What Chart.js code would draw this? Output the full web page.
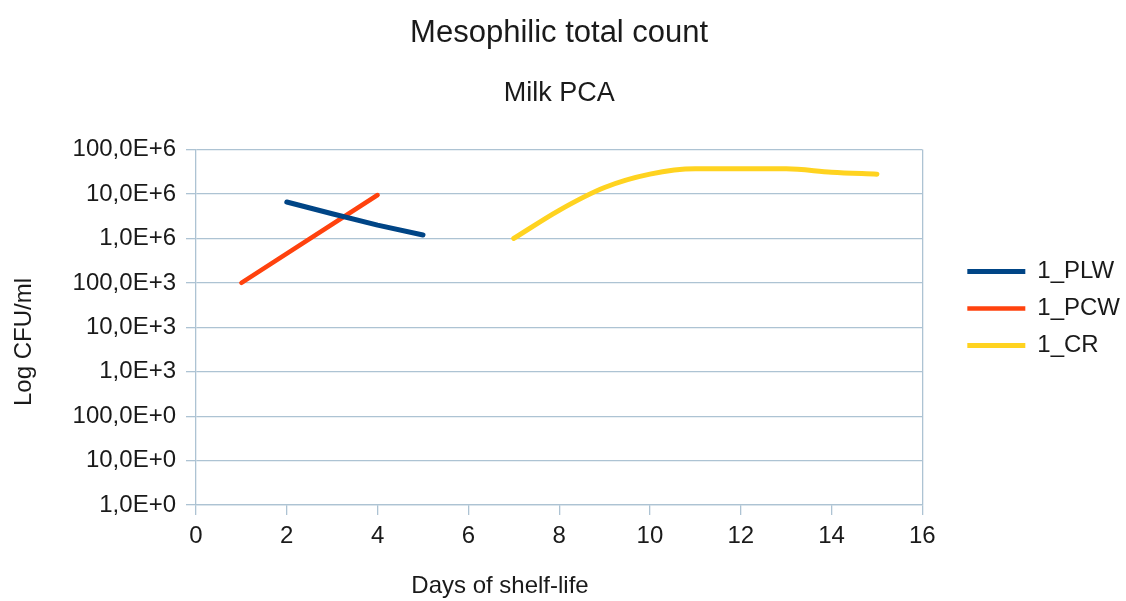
<!DOCTYPE html>
<html>
<head>
<meta charset="utf-8">
<title>Mesophilic total count</title>
<script src="https://cdn.jsdelivr.net/npm/chart.js@4.4.1/dist/chart.umd.min.js"></script>
<style>
    html, body { margin: 0; padding: 0; background: #ffffff; }
    #wrap { width: 1126px; height: 601px; position: relative; }
</style>
</head>
<body>
<div id="wrap"><canvas id="mesophilicChart"></canvas></div>
<script>
// Samples: day of shelf-life and CFU/ml for each batch
const plwDays = [2, 3, 4, 5];
const plwCounts = [6.6e6, 3.6e6, 2.0e6, 1.2e6];

const pcwDays = [1, 4];
const pcwCounts = [1.0e5, 9.5e6];

const crDays = [7, 8, 9, 10, 11, 12, 13, 14, 15];
const crCounts = [1.0e6, 4.3e6, 1.4e7, 2.8e7, 3.7e7, 3.7e7, 3.7e7, 3.1e7, 2.8e7];

const seriesNames = ['1_PLW', '1_PCW', '1_CR'];
const seriesColors = ['#004586', '#ff420e', '#ffd320'];

const yTickValues = [1, 10, 100, 1e3, 1e4, 1e5, 1e6, 1e7, 1e8];
const yTickLabels = ['1,0E+0', '10,0E+0', '100,0E+0', '1,0E+3', '10,0E+3', '100,0E+3', '1,0E+6', '10,0E+6', '100,0E+6'];

const FONT = '"Liberation Sans", Arial, sans-serif';
const TEXT = '#1a1a1a';
const GRID = '#adc3d3';

function toPoints(days, counts) {
    return days.map((d, i) => ({ x: d, y: counts[i] }));
}

// axis captions sit off-centre, so they are painted by hand
const axisCaptions = {
    id: 'axisCaptions',
    afterDraw(chart) {
        const ctx = chart.ctx;
        ctx.save();
        ctx.font = '24px ' + FONT;
        ctx.fillStyle = TEXT;
        ctx.textAlign = 'center';
        ctx.textBaseline = 'middle';
        ctx.fillText('Days of shelf-life', 500, 586);
        ctx.translate(24, 342);
        ctx.rotate(-Math.PI / 2);
        ctx.fillText('Log CFU/ml', 0, 0);
        ctx.restore();
    }
};

// push the legend a bit away from the plot
const legendNudge = {
    id: 'legendNudge',
    afterLayout(chart) {
        const lg = chart.legend;
        lg.left += 32;
        lg.right += 32;
        lg.top += 8;
        lg.bottom += 8;
    }
};

const ctx = document.getElementById('mesophilicChart').getContext('2d');
const mesophilicChart = new Chart(ctx, {
    type: 'line',
    data: {
        datasets: [
            {
                label: seriesNames[0],
                data: toPoints(plwDays, plwCounts),
                borderColor: seriesColors[0],
                backgroundColor: seriesColors[0],
                borderWidth: 5,
                tension: 0
            },
            {
                label: seriesNames[1],
                data: toPoints(pcwDays, pcwCounts),
                borderColor: seriesColors[1],
                backgroundColor: seriesColors[1],
                borderWidth: 4.5,
                tension: 0
            },
            {
                label: seriesNames[2],
                data: toPoints(crDays, crCounts),
                borderColor: seriesColors[2],
                backgroundColor: seriesColors[2],
                borderWidth: 5,
                cubicInterpolationMode: 'monotone'
            }
        ]
    },
    options: {
        responsive: true,
        maintainAspectRatio: false,
        animation: false,
        layout: {
            padding: { top: 0, right: 28, bottom: 0, left: 0 }
        },
        elements: {
            point: { radius: 0, hoverRadius: 0 },
            line: { borderCapStyle: 'round', borderJoinStyle: 'round' }
        },
        plugins: {
            title: {
                display: true,
                text: 'Mesophilic total count',
                color: TEXT,
                fullSize: false,
                font: { family: FONT, size: 31, weight: 'normal' },
                padding: { top: 15, bottom: 0 }
            },
            subtitle: {
                display: true,
                text: 'Milk PCA',
                color: TEXT,
                fullSize: false,
                font: { family: FONT, size: 27, weight: 'normal' },
                padding: { top: 25, bottom: 40 }
            },
            legend: {
                position: 'right',
                labels: {
                    color: TEXT,
                    font: { family: FONT, size: 24 },
                    usePointStyle: true,
                    pointStyle: 'line',
                    pointStyleWidth: 58,
                    padding: 13
                }
            },
            tooltip: { enabled: false }
        },
        scales: {
            x: {
                type: 'linear',
                min: 0,
                max: 16,
                ticks: {
                    stepSize: 2,
                    color: TEXT,
                    padding: 7,
                    font: { family: FONT, size: 24 }
                },
                grid: {
                    color: (c) => (c.tick && c.tick.value === 16 ? GRID : 'rgba(0,0,0,0)'),
                    tickColor: GRID,
                    tickLength: 10,
                    lineWidth: 1.3
                },
                border: { color: GRID, width: 1.3 },
                afterFit: (scale) => { scale.height = 96; }
            },
            y: {
                type: 'logarithmic',
                min: 1,
                max: 1e8,
                afterBuildTicks: (scale) => {
                    scale.ticks = yTickValues.map(v => ({ value: v }));
                },
                ticks: {
                    autoSkip: false,
                    color: TEXT,
                    padding: 10,
                    font: { family: FONT, size: 24 },
                    callback: function(value) {
                        const i = yTickValues.indexOf(value);
                        return i >= 0 ? yTickLabels[i] : '';
                    }
                },
                grid: {
                    color: GRID,
                    tickColor: GRID,
                    tickLength: 10,
                    lineWidth: 1.3
                },
                border: { color: GRID, width: 1.3 },
                afterFit: (scale) => { scale.width = 196; }
            }
        }
    },
    plugins: [axisCaptions, legendNudge]
});
</script>
</body>
</html>
